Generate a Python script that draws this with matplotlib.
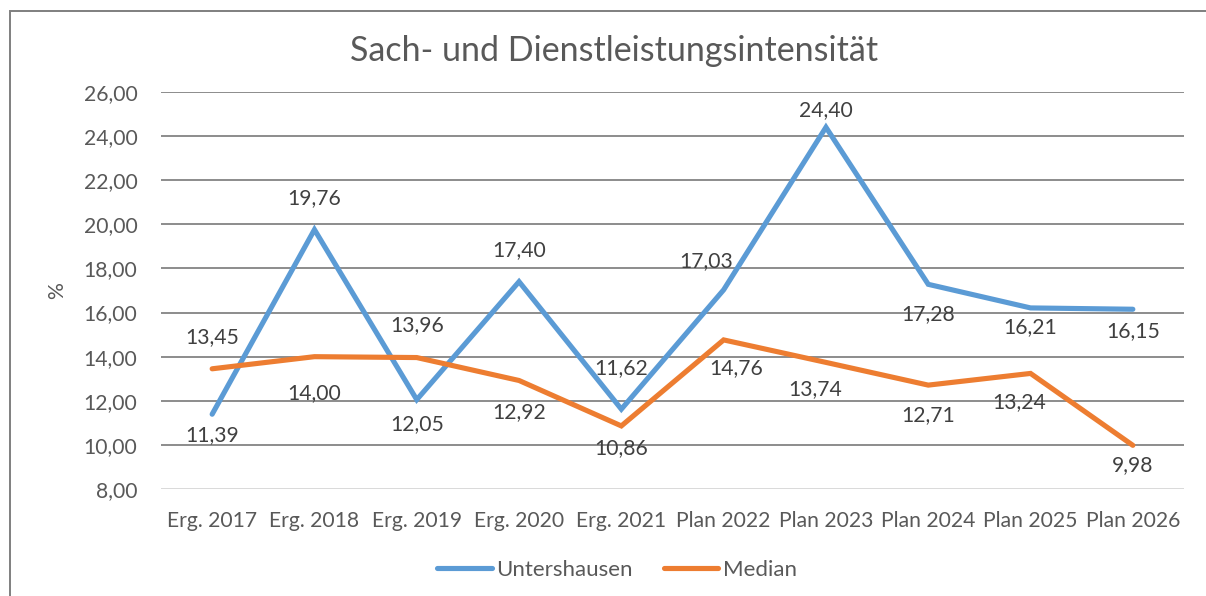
import matplotlib
matplotlib.use("Agg")
import matplotlib.pyplot as plt
from matplotlib.patches import Rectangle
from matplotlib.lines import Line2D

# Chart data
categories = ["Erg. 2017", "Erg. 2018", "Erg. 2019", "Erg. 2020", "Erg. 2021",
              "Plan 2022", "Plan 2023", "Plan 2024", "Plan 2025", "Plan 2026"]
untershausen = [11.39, 19.76, 12.05, 17.40, 11.62, 17.03, 24.40, 17.28, 16.21, 16.15]
median = [13.45, 14.00, 13.96, 12.92, 10.86, 14.76, 13.74, 12.71, 13.24, 9.98]
y_ticks = [8, 10, 12, 14, 16, 18, 20, 22, 24, 26]

# Label offsets in pixels (dx, dy), as placed in the original chart
unt_offsets = [(0, -21), (0, 32), (0, -24), (0, 32), (0, 41),
               (-17, 29), (0, 17), (0, -30), (0, -19), (0, -22)]
med_offsets = [(0, 32), (0, -36), (0, 32), (0, -32), (0, -22),
               (13, -28), (-11, -27), (0, -30), (-11, -29), (0, -20)]

TEXT = "#595959"
BLUE = "#5B9BD5"
ORANGE = "#ED7D31"

plt.rcParams['font.family'] = ['Lato', 'DejaVu Sans']

fig = plt.figure(figsize=(12.06, 5.96), dpi=100)
ax = fig.add_axes([161 / 1206, 1 - 489 / 596, (1184 - 161) / 1206, (489 - 92) / 596])

x = list(range(len(categories)))
ax.plot(x, untershausen, color=BLUE, lw=3.7, solid_joinstyle='miter', solid_capstyle='round', zorder=3)
ax.plot(x, median, color=ORANGE, lw=3.7, solid_joinstyle='miter', solid_capstyle='round', zorder=3)

def fmt(v):
    return f"{v:.2f}".replace(".", ",")

for xi, v, off in zip(x, untershausen, unt_offsets):
    ax.annotate(fmt(v), (xi, v), xytext=off, textcoords='offset pixels',
                ha='center', va='center', fontsize=15.2, color="#404040", zorder=4)
for xi, v, off in zip(x, median, med_offsets):
    ax.annotate(fmt(v), (xi, v), xytext=off, textcoords='offset pixels',
                ha='center', va='center', fontsize=15.2, color="#404040", zorder=4)

ax.set_xlim(-0.5, len(categories) - 0.5)
ax.set_ylim(8, 26)
ax.set_yticks(y_ticks)
ax.set_yticklabels([fmt(t) for t in y_ticks])
ax.set_xticks(x)
ax.set_xticklabels(categories)
ax.tick_params(length=0, labelsize=15.2, colors=TEXT)
ax.tick_params(axis='y', pad=17)
ax.tick_params(axis='x', pad=16)

for t in y_ticks:
    ax.axhline(t, color="#8c8c8c" if t > 8 else "#d9d9d9", lw=1.4, zorder=1)
for s in ax.spines.values():
    s.set_visible(False)

ax.set_ylabel("%", fontsize=15.2, color=TEXT, labelpad=12)

fig.text(614 / 1206, 1 - 51 / 596, "Sach- und Dienstleistungsintensität",
         ha='center', va='center', fontsize=24.5, color=TEXT)

# legend
handles = [Line2D([], [], color=BLUE, lw=3.7, solid_capstyle='round'),
           Line2D([], [], color=ORANGE, lw=3.7, solid_capstyle='round')]
fig.legend(handles, ["Untershausen", "Median"], loc='center', bbox_to_anchor=(617 / 1206, 1 - 570 / 596),
           ncol=2, frameon=False, fontsize=16, labelcolor=TEXT, handlelength=2.45,
           handletextpad=0.2, columnspacing=1.4)

# chart border (cropped at right and bottom)
fig.patches.append(Rectangle((10 / 1206, -0.1), 1.2, 0.1 + (1 - 11 / 596),
                             transform=fig.transFigure, fill=False, edgecolor="#7f7f7f", lw=1.4))

fig.savefig("out.png", dpi=100)
